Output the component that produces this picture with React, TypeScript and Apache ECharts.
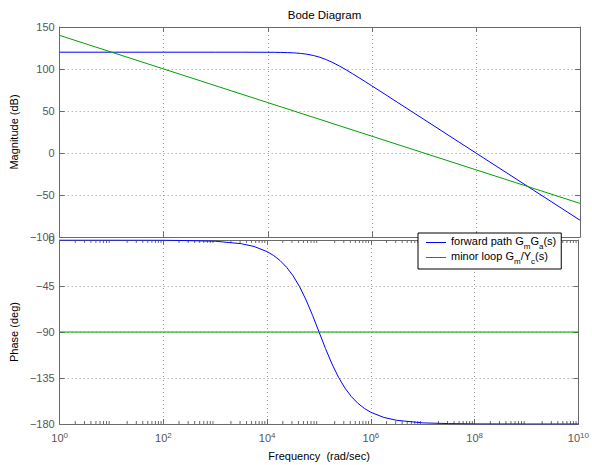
import React, { useEffect, useRef } from "react";
import * as echarts from "echarts";

// Frequency axis is in decades: exponent n means 10^n rad/sec
const xTickExps = [0, 2, 4, 6, 8, 10];
const magTicks = [-100, -50, 0, 50, 100, 150];
const phaseTicks = [-180, -135, -90, -45, 0];

const fwdName = "forward path GmGa(s)";
const minorName = "minor loop Gm/Yc(s)";

// forward path G_m G_a(s): magnitude (dB) vs log10 frequency
const fwdMagExp = [0, 1, 2, 3, 3.5, 4, 4.125, 4.25, 4.375, 4.5, 4.625, 4.75, 4.875, 5, 5.125, 5.25, 5.375, 5.5, 5.625, 5.75, 5.875, 6, 6.25, 6.5, 7, 8, 9, 10];
const fwdMag = [120, 120, 120, 120, 120, 119.9, 119.85, 119.7, 119.5, 119.2, 118.6, 117.6, 116.1, 114, 111.1, 107.6, 103.6, 99.2, 94.5, 89.7, 84.9, 79.9, 70, 60, 40, 0, -40, -80];
// forward path phase (deg)
const fwdPhaseExp = [0, 1, 2, 3, 3.5, 3.75, 4, 4.125, 4.25, 4.375, 4.5, 4.625, 4.75, 4.875, 5, 5.125, 5.25, 5.375, 5.5, 5.625, 5.75, 5.875, 6, 6.25, 6.5, 7, 7.5, 8, 9, 10];
const fwdPhase = [0, 0, -0.1, -1.2, -3.6, -6.4, -11.4, -15.2, -20.2, -26.7, -35.1, -45.7, -58.7, -73.7, -90, -106.3, -121.3, -134.3, -144.9, -153.3, -159.8, -164.8, -168.6, -173.6, -176.4, -178.9, -179.6, -179.9, -180, -180];

// minor loop G_m / Y_c(s)
const minorMagExp = [0, 2, 4, 6, 8, 10];
const minorMag = [140, 100, 60, 20, -20, -60];
const minorPhaseExp = [0, 2, 4, 6, 8, 10];
const minorPhase = [-90, -90, -90, -90, -90, -90];

const FONT = "Liberation Sans, Arial, Helvetica, sans-serif";
const FRAME = "#6a6a6a";
const LABEL = "#555";
const BLUE = "#0000ff";
const GREEN = "#00a000";

const zip = (xs: number[], ys: number[]) => xs.map((x, i) => [x, ys[i]]);

export default function App() {
  const ref = useRef<HTMLDivElement>(null);
  useEffect(() => {
    if (!ref.current) return;
    const chart = echarts.init(ref.current, undefined, { renderer: "svg" });

    const minorTicks: number[][] = [];
    for (let n = 0; n < 10; n++) {
      for (let k = 2; k <= 9; k++) minorTicks.push([n + Math.log10(k)]);
    }

    const grids = [
      { left: 59, top: 27, width: 521, height: 210 },
      { left: 59, top: 240, width: 521, height: 184 },
    ];

    const xAxisBase = (gridIndex: number, position: string, showLabel: boolean, showSplit: boolean) => ({
      gridIndex,
      type: "value",
      min: 0,
      max: 10,
      interval: 2,
      position,
      axisLine: { show: true, onZero: false, lineStyle: { color: FRAME, width: 1 } },
      axisTick: { show: true, inside: true, length: 5, lineStyle: { color: FRAME } },
      axisLabel: showLabel
        ? {
            show: true,
            margin: 7,
            formatter: (v: number) => `{b|10}{s|${v}}`,
            rich: {
              b: { fontSize: 11, color: LABEL, fontFamily: FONT, lineHeight: 13 },
              s: { fontSize: 8, color: LABEL, fontFamily: FONT, lineHeight: 8, verticalAlign: "top" },
            },
          }
        : { show: false },
      splitLine: { show: showSplit, lineStyle: { color: "#999", type: [1, 3], width: 1 } },
    });

    const yAxisBase = (gridIndex: number, position: string, min: number, max: number, interval: number, showLabel: boolean, name?: string) => ({
      gridIndex,
      type: "value",
      min,
      max,
      interval,
      position,
      name: name || "",
      nameLocation: "middle",
      nameGap: 40,
      nameTextStyle: { color: "#000", fontSize: 11, fontFamily: FONT },
      axisLine: { show: true, onZero: false, lineStyle: { color: FRAME, width: 1 } },
      axisTick: { show: true, inside: true, length: 5, lineStyle: { color: FRAME } },
      axisLabel: showLabel
        ? { show: true, color: LABEL, fontSize: 11, fontFamily: FONT, margin: 5, formatter: (v: number) => (v < 0 ? "\u2212" + Math.abs(v) : String(v)) }
        : { show: false },
      splitLine: { show: showLabel, lineStyle: { color: "#999", type: [1, 3], width: 1 } },
    });

    const minorTickSeries = (gi: number, yMin: number, yMax: number) => ({
      type: "custom",
      xAxisIndex: gi * 2,
      yAxisIndex: gi * 2,
      silent: true,
      z: 1,
      data: minorTicks,
      renderItem: (_p: any, api: any) => {
        const x = api.value(0);
        const b = api.coord([x, yMin]);
        const t = api.coord([x, yMax]);
        return {
          type: "group",
          children: [
            { type: "line", shape: { x1: b[0], y1: b[1], x2: b[0], y2: b[1] - 3 }, style: { stroke: FRAME, lineWidth: 1 } },
            { type: "line", shape: { x1: t[0], y1: t[1], x2: t[0], y2: t[1] + 3 }, style: { stroke: FRAME, lineWidth: 1 } },
          ],
        };
      },
    });

    const lineSeries = (name: string, gi: number, data: number[][], color: string) => ({
      name,
      type: "line",
      xAxisIndex: gi * 2,
      yAxisIndex: gi * 2,
      data,
      showSymbol: false,
      symbol: "none",
      smooth: false,
      lineStyle: { color, width: 1 },
      itemStyle: { color },
      z: 3,
    });

    chart.setOption({
      animation: false,
      backgroundColor: "#fff",
      title: {
        text: "Bode Diagram",
        left: 319.5,
        top: 4,
        textAlign: "center",
        textStyle: { fontSize: 11.5, fontWeight: "normal", color: "#000", fontFamily: FONT },
      },
      grid: grids,
      xAxis: [
        xAxisBase(0, "bottom", false, true),
        xAxisBase(0, "top", false, false),
        {
          ...xAxisBase(1, "bottom", true, true),
          name: "Frequency  (rad/sec)",
          nameLocation: "middle",
          nameGap: 26,
          nameTextStyle: { color: "#000", fontSize: 11, fontFamily: FONT },
        },
        xAxisBase(1, "top", false, false),
      ],
      yAxis: [
        yAxisBase(0, "left", -100, 150, 50, true, "Magnitude (dB)"),
        yAxisBase(0, "right", -100, 150, 50, false),
        yAxisBase(1, "left", -180, 0, 45, true, "Phase (deg)"),
        yAxisBase(1, "right", -180, 0, 45, false),
      ],
      legend: {
        data: [fwdName, minorName],
        orient: "vertical",
        left: 418,
        top: 233,
        backgroundColor: "#fff",
        borderColor: "#000",
        borderWidth: 1,
        borderRadius: 0,
        padding: [2, 5, 4, 8],
        itemGap: 0,
        itemWidth: 20,
        itemHeight: 1,
        icon: "rect",
        selectedMode: false,
        formatter: (name: string) =>
          name === fwdName ? "{t|forward path G}{sub|m}{t|G}{sub|a}{t|(s)}" : "{t|minor loop G}{sub|m}{t|/Y}{sub|c}{t|(s)}",
        textStyle: {
          color: "#000",
          fontFamily: FONT,
          fontSize: 11,
          rich: {
            t: { fontSize: 11, color: "#000", fontFamily: FONT, lineHeight: 15, verticalAlign: "top" },
            sub: { fontSize: 8, color: "#000", fontFamily: FONT, lineHeight: 9, verticalAlign: "bottom" },
          },
        },
      },
      series: [
        lineSeries(fwdName, 0, zip(fwdMagExp, fwdMag), BLUE),
        lineSeries(minorName, 0, zip(minorMagExp, minorMag), GREEN),
        lineSeries(fwdName, 1, zip(fwdPhaseExp, fwdPhase), BLUE),
        lineSeries(minorName, 1, zip(minorPhaseExp, minorPhase), GREEN),
        minorTickSeries(1, -180, 0),
      ],
    });
    return () => chart.dispose();
  }, []);

  return (
    <div
      ref={ref}
      style={{ position: "fixed", left: 0, top: 0, width: 592, height: 465, background: "#fff" }}
    />
  );
}
